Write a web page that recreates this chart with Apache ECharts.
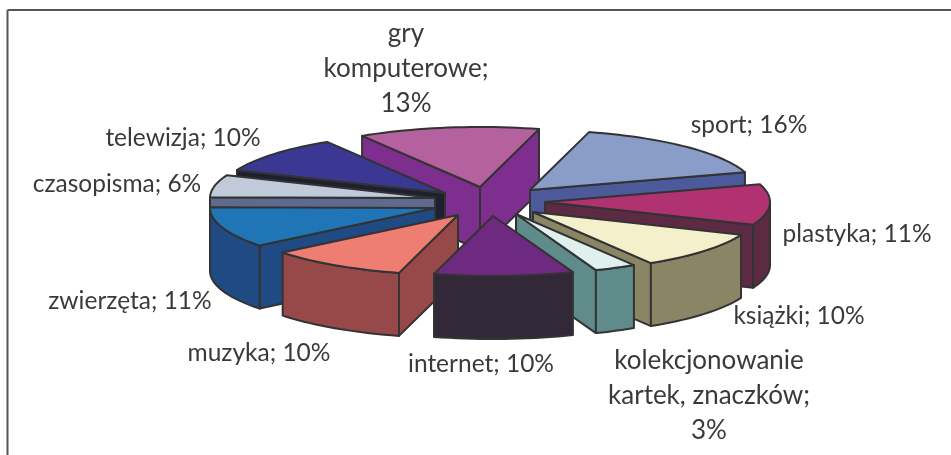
<!DOCTYPE html>
<html>
<head>
<meta charset="utf-8">
<style>
html,body{margin:0;padding:0;background:#fff}
#main{width:951px;height:455px}
</style>
<script src="https://cdn.jsdelivr.net/npm/echarts@6/dist/echarts.min.js"></script>
</head>
<body>
<div id="main"></div>
<script>
// dane wykresu, kolejnosc zgodnie z ruchem wskazowek zegara
var names = ['gry\nkomputerowe', 'sport', 'plastyka', 'książki', 'kolekcjonowanie\nkartek, znaczków', 'internet', 'muzyka', 'zwierzęta', 'czasopisma', 'telewizja']
var values = [13, 16, 11, 10, 3, 10, 10, 11, 6, 10]
var separators = [';\n', '; ', '; ', '; ', ';\n', '; ', '; ', '; ', '; ', '; ']

var topColors = ['#b5619f', '#8a9dc9', '#b03270', '#f4f0cb', '#dff0ee', '#6e2a80', '#ee7d72', '#1f75b5', '#c0cad9', '#3a3892']
var wallColors = ['#7e2e8e', '#4c5a9c', '#5c2a42', '#8a8564', '#5f8c8a', '#332838', '#974848', '#1f4a84', '#5f6b8e', '#1c2030']

// polozenie wierzcholkow wycinkow (rozsuniecie) i podpisow
var apexes = [[480, 187], [530, 190], [545, 202], [533, 212], [516, 214], [493, 216], [458, 215], [435, 208], [435, 198], [445, 193]]
var labelPos = [[406, 69], [749, 125], [857, 234], [799, 316], [709, 396], [481, 364], [259, 353], [130, 301], [117, 184], [183, 138]]
var labelSizes = [26, 24.5, 24.5, 24.5, 26, 24.5, 24.5, 24.5, 24.5, 24.5]

var startAngle = -31.6
var rx = 225
var ry = 60
var depth = 63

function sliceAngles(index) {
    var total = values.reduce(function (a, b) { return a + b }, 0)
    var sum = 0
    for (var i = 0; i < index; i++) sum += values[i]
    return [startAngle + sum / total * 360, startAngle + (sum + values[index]) / total * 360]
}
function rimPoint(apex, deg) {
    var r = deg * Math.PI / 180
    return [apex[0] + rx * Math.sin(r), apex[1] - ry * Math.cos(r)]
}
function arcPoints(apex, a0, a1) {
    var pts = []
    var n = Math.max(2, Math.ceil((a1 - a0) / 2))
    for (var i = 0; i <= n; i++) pts.push(rimPoint(apex, a0 + (a1 - a0) * i / n))
    return pts
}
function down(p) {
    return [p[0], p[1] + depth]
}
function poly(points, fill, z2) {
    return {
        type: 'polygon',
        z2: z2,
        shape: { points: points },
        style: { fill: fill, stroke: '#333333', lineWidth: 2, lineJoin: 'round' }
    }
}

function renderSlice(params, api) {
    var i = api.value(1)
    var a = sliceAngles(i)
    var apex = apexes[i]
    var mid = (a[0] + a[1]) / 2 * Math.PI / 180
    var z2 = Math.round((1 - Math.cos(mid)) * 100)
    var children = []
    var p0 = rimPoint(apex, a[0])
    var p1 = rimPoint(apex, a[1])
    // sciany boczne, tylko te zwrocone do patrzacego
    if (Math.sin(a[0] * Math.PI / 180) < 0) {
        children.push(poly([apex, p0, down(p0), down(apex)], wallColors[i], z2))
    }
    if (Math.sin(a[1] * Math.PI / 180) > 0) {
        children.push(poly([apex, p1, down(p1), down(apex)], wallColors[i], z2))
    }
    // sciana zewnetrzna, tylko przednia czesc luku
    var f0 = Math.max(a[0], 90)
    var f1 = Math.min(a[1], 270)
    if (f1 > f0) {
        var arc = arcPoints(apex, f0, f1)
        children.push(poly(arc.concat(arc.map(down).reverse()), wallColors[i], z2))
    }
    children.push(poly([apex].concat(arcPoints(apex, a[0], a[1])), topColors[i], z2))
    children.push({
        type: 'text',
        z2: 1000,
        x: labelPos[i][0],
        y: labelPos[i][1],
        style: {
            text: names[i] + separators[i] + api.value(0) + '%',
            fill: '#3a3a3a',
            font: labelSizes[i] + 'px Lato',
            align: 'center',
            verticalAlign: 'middle',
            lineHeight: 35
        }
    })
    return { type: 'group', children: children }
}

var chart = echarts.init(document.getElementById('main'), null, { renderer: 'canvas' })
chart.setOption({
    animation: false,
    backgroundColor: '#fff',
    graphic: [
        { type: 'line', shape: { x1: 7.5, y1: 10, x2: 951, y2: 10 }, style: { stroke: '#555555', lineWidth: 2 } },
        { type: 'line', shape: { x1: 7.5, y1: 10, x2: 7.5, y2: 455 }, style: { stroke: '#555555', lineWidth: 2 } }
    ],
    series: [{
        type: 'custom',
        coordinateSystem: 'none',
        renderItem: renderSlice,
        data: values.map(function (v, i) { return [v, i] })
    }]
})
</script>
</body>
</html>
